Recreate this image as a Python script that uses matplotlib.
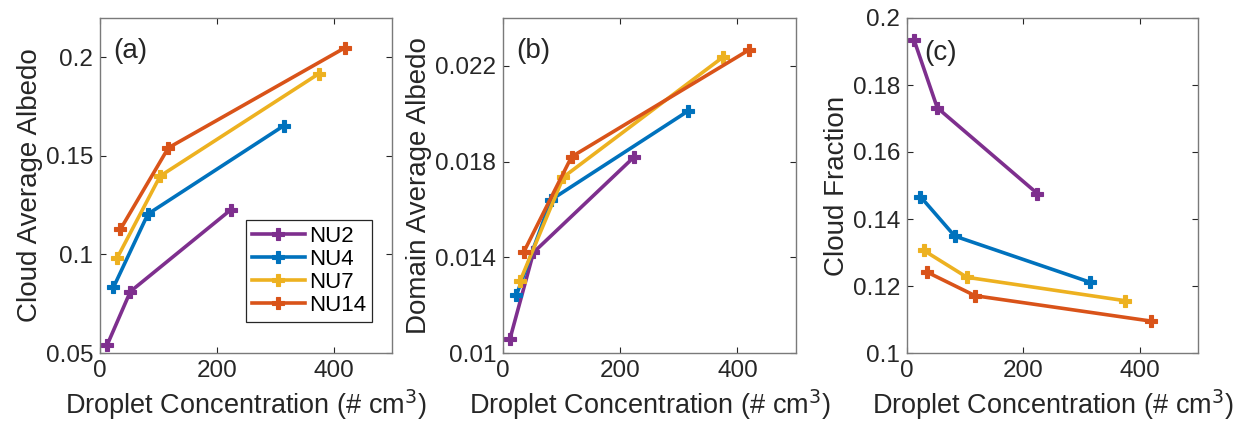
import numpy as np
import matplotlib.pyplot as plt
from matplotlib.ticker import FuncFormatter

plt.rcParams['font.family'] = ['Liberation Sans', 'DejaVu Sans']

# droplet concentration (# cm^-3) for each run
series = ['NU2', 'NU4', 'NU7', 'NU14']
conc = {
    'NU2': [12, 52, 224],
    'NU4': [23, 82, 315],
    'NU7': [29, 103, 375],
    'NU14': [35, 117, 420],
}
cloud_albedo = {
    'NU2': [0.0539, 0.0812, 0.1227],
    'NU4': [0.0833, 0.1205, 0.1654],
    'NU7': [0.0980, 0.1398, 0.1918],
    'NU14': [0.1128, 0.1541, 0.2050],
}
domain_albedo = {
    'NU2': [0.0106, 0.0142, 0.0182],
    'NU4': [0.01242, 0.0164, 0.0201],
    'NU7': [0.0130, 0.01735, 0.02236],
    'NU14': [0.0142, 0.0182, 0.02267],
}
cloud_fraction = {
    'NU2': [0.1935, 0.1732, 0.1476],
    'NU4': [0.1467, 0.1349, 0.1211],
    'NU7': [0.1306, 0.1226, 0.1156],
    'NU14': [0.1241, 0.1171, 0.1095],
}
colores = {'NU2': '#7E2F8E', 'NU4': '#0072BD', 'NU7': '#EDB120', 'NU14': '#D95319'}

fig = plt.figure(figsize=(12.43, 4.23), dpi=100)
W, H = 1243, 423
# cajas de ejes en pixeles: izquierda, derecha
cajas = [(100, 392), (503, 796), (907, 1198)]
top, bottom = 18, 353

paneles = [
    (cloud_albedo, 'Cloud Average Albedo', (0.05, 0.22), [0.05, 0.1, 0.15, 0.2], '(a)', 0.045, 0.9),
    (domain_albedo, 'Domain Average Albedo', (0.01, 0.024), [0.01, 0.014, 0.018, 0.022], '(b)', 0.045, 0.9),
    (cloud_fraction, 'Cloud Fraction', (0.1, 0.2), [0.1, 0.12, 0.14, 0.16, 0.18, 0.2], '(c)', 0.06, 0.895),
]

gris = '#7a7a7a'
texto = '#262626'
for (l, r), (datos, ylab, ylim, yticks, etiqueta, lx, ly) in zip(cajas, paneles):
    ax = fig.add_axes([l / W, 1 - bottom / H, (r - l) / W, (bottom - top) / H])
    for s in series:
        ax.plot(conc[s], datos[s], color=colores[s], lw=2.6, marker='P',
                markersize=9, markeredgewidth=0.8, label=s, clip_on=False)
    ax.set_xlim(0, 500)
    ax.set_ylim(*ylim)
    ax.set_xticks([0, 200, 400])
    ax.set_yticks(yticks)
    ax.yaxis.set_major_formatter(FuncFormatter(lambda v, p: ('%.4g' % v)))
    ax.tick_params(direction='in', top=True, right=True, length=4, width=0.8,
                   color=texto, labelsize=17.5, labelcolor=texto, pad=5)
    for sp in ax.spines.values():
        sp.set_color(gris)
        sp.set_linewidth(1.0)
    ax.set_xlabel(r'Droplet Concentration (# cm$^3$)', fontsize=19.5, color=texto, labelpad=4)
    ax.set_ylabel(ylab, fontsize=20, color=texto, labelpad=2)
    ax.text(lx, ly, etiqueta, transform=ax.transAxes, fontsize=20, color=texto,
            va='center', ha='left')
    if etiqueta == '(a)':
        leg = ax.legend(loc='lower right', bbox_to_anchor=(0.97, 0.06), fontsize=16,
                        handlelength=2.4, handletextpad=0.2, borderpad=0.25,
                        labelspacing=0.1, fancybox=False, framealpha=1)
        leg.get_frame().set_edgecolor(texto)
        leg.get_frame().set_linewidth(0.9)

fig.savefig('out.png', dpi=100)
